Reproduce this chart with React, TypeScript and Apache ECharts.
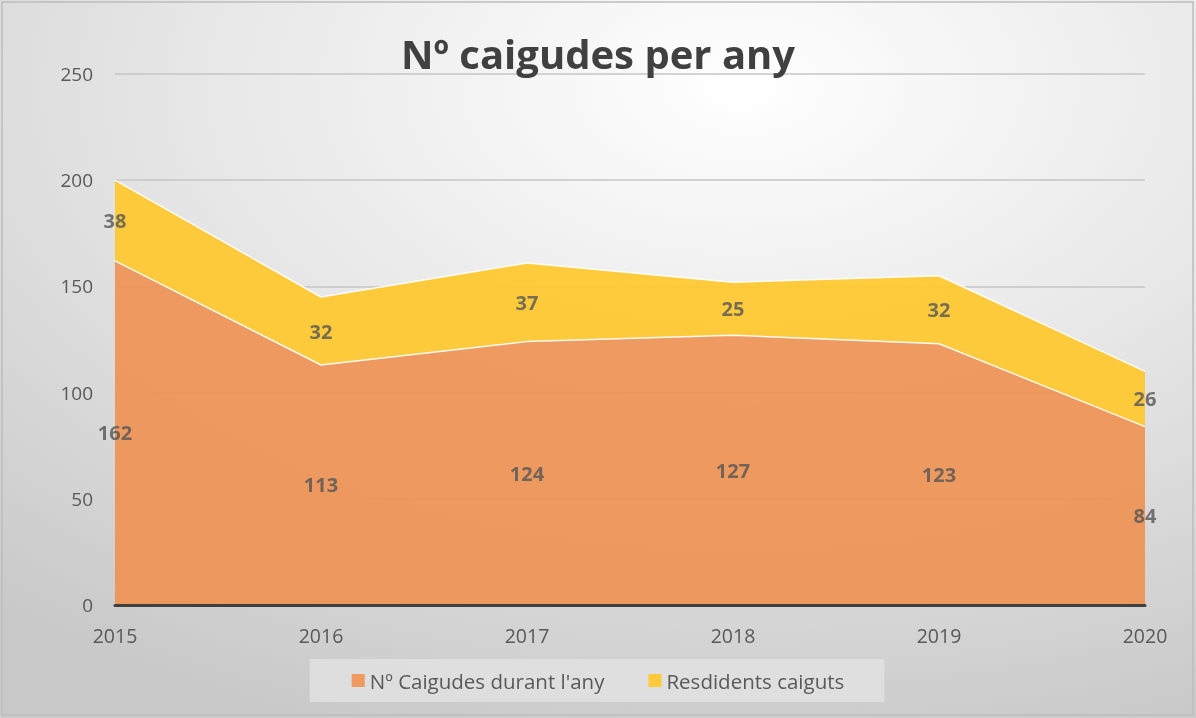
import React, { useEffect, useRef } from "react";
import * as echarts from "echarts";

const years = ["2015", "2016", "2017", "2018", "2019", "2020"];
const caigudes = [162, 113, 124, 127, 123, 84];
const residents = [38, 32, 37, 25, 32, 26];
const yTicks = { min: 0, max: 250, interval: 50 };
const seriesNames = ["Nº Caigudes durant l'any", "Resdidents caiguts"];

const FONT = "'Open Sans', 'Noto Sans', sans-serif";
const TXT = "#595959";

export default function App() {
  const ref = useRef<HTMLDivElement>(null);
  useEffect(() => {
    if (!ref.current) return;
    const chart = echarts.init(ref.current, undefined, { renderer: "svg" });
    const midA = caigudes.map((v) => v / 2);
    const midB = caigudes.map((v, i) => v + residents[i] / 2);
    const lbl = {
      show: true,
      position: "inside",
      color: "#555555",
      fontFamily: FONT,
      fontWeight: "bold",
      fontSize: 20,
    };
    chart.setOption({
      animation: false,
      backgroundColor: {
        type: "radial",
        x: 0.62,
        y: 0.12,
        r: 0.95,
        colorStops: [
          { offset: 0, color: "#ffffff" },
          { offset: 0.5, color: "#e6e6e6" },
          { offset: 1, color: "#c9c9c9" },
        ],
      },
      title: {
        text: "Nº caigudes per any",
        left: "center",
        top: 28,
        textStyle: { fontFamily: FONT, fontWeight: "bold", fontSize: 40, color: "#404040" },
      },
      legend: {
        data: seriesNames,
        bottom: 16,
        left: "center",
        backgroundColor: "rgba(224,224,224,0.9)",
        padding: [11, 40, 11, 42],
        itemWidth: 13,
        itemHeight: 13,
        itemGap: 44,
        icon: "rect",
        textStyle: { color: TXT, fontFamily: FONT, fontSize: 20.5 },
      },
      grid: { left: 115, right: 51, top: 74, bottom: 113, containLabel: false },
      xAxis: {
        type: "category",
        data: years,
        boundaryGap: false,
        axisLine: { show: true, lineStyle: { color: "#404040", width: 3 } },
        axisTick: { show: false },
        axisLabel: { color: TXT, fontFamily: FONT, fontSize: 19.5, margin: 20 },
        z: 10,
      },
      yAxis: {
        type: "value",
        min: yTicks.min,
        max: yTicks.max,
        interval: yTicks.interval,
        axisLine: { show: false },
        axisTick: { show: false },
        axisLabel: { color: TXT, fontFamily: FONT, fontSize: 19, margin: 22 },
        splitLine: { lineStyle: { color: "#c6c6c6", width: 1.5 } },
      },
      series: [
        {
          name: seriesNames[0],
          type: "line",
          stack: "total",
          data: caigudes,
          symbol: "none",
          itemStyle: { color: "#ef9a5f" },
          lineStyle: { color: "#ffffff", width: 1.5, opacity: 0.9 },
          areaStyle: { color: "#ee9255", opacity: 0.92 },
        },
        {
          name: seriesNames[1],
          type: "line",
          stack: "total",
          data: residents,
          symbol: "none",
          itemStyle: { color: "#fdca3c" },
          lineStyle: { color: "#ffffff", width: 1.5, opacity: 0.9 },
          areaStyle: { color: "#fec833", opacity: 0.95 },
        },
        {
          type: "scatter",
          data: midA.map((v, i) => ({ value: v, raw: caigudes[i] })),
          symbolSize: 0,
          silent: true,
          label: { ...lbl, formatter: (p: any) => String(p.data.raw) },
          z: 20,
        },
        {
          type: "scatter",
          data: midB.map((v, i) => ({ value: v, raw: residents[i] })),
          symbolSize: 0,
          silent: true,
          label: { ...lbl, formatter: (p: any) => String(p.data.raw) },
          z: 20,
        },
      ],
      graphic: [
        {
          type: "rect",
          shape: { x: 2, y: 2, width: 1191, height: 713 },
          style: { fill: "none", stroke: "#bdbdbd", lineWidth: 1.5 },
          silent: true,
        },
      ],
    });
    return () => chart.dispose();
  }, []);
  return (
    <div
      ref={ref}
      style={{ position: "fixed", left: 0, top: 0, width: 1196, height: 718 }}
    />
  );
}
